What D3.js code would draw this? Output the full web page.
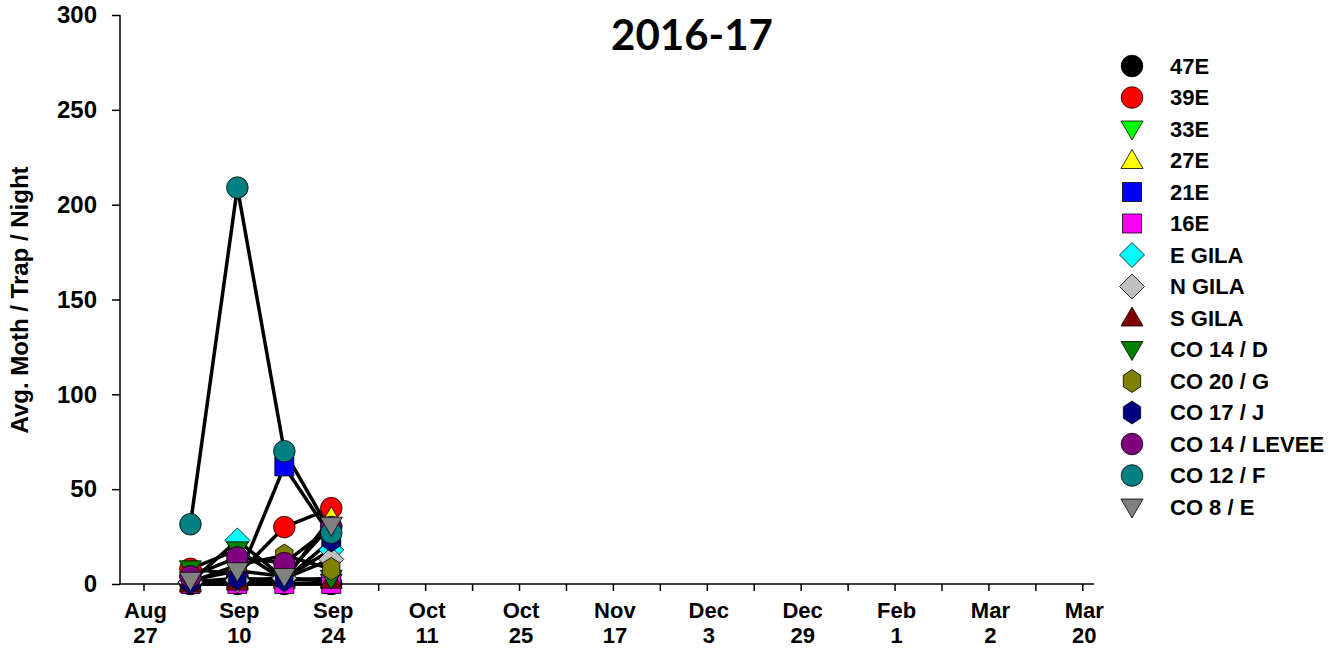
<!DOCTYPE html>
<html>
<head>
<meta charset="utf-8">
<script src="https://cdn.jsdelivr.net/npm/d3@7"></script>
<style>
  body { margin: 0; background: #fff; }
  text { font-family: "Liberation Sans", Arial, sans-serif; font-weight: bold; }
</style>
</head>
<body>
<div id="chart"></div>
<script>
// sample weeks (tick index on the x axis)
const weekIdx = [1, 2, 3, 4];

// labelled ticks (every other tick)
const tickLabels = [
  ["Aug", "27"], ["Sep", "10"], ["Sep", "24"], ["Oct", "11"], ["Oct", "25"],
  ["Nov", "17"], ["Dec", "3"], ["Dec", "29"], ["Feb", "1"], ["Mar", "2"], ["Mar", "20"]
];

const yTicks = [0, 50, 100, 150, 200, 250, 300];

const seriesNames = ["47E", "39E", "33E", "27E", "21E", "16E", "E GILA", "N GILA", "S GILA",
  "CO 14 / D", "CO 20 / G", "CO 17 / J", "CO 14 / LEVEE", "CO 12 / F", "CO 8 / E"];

const seriesColors = ["#000000", "#ff0000", "#00ff00", "#ffff00", "#0000ff", "#ff00ff", "#00ffff",
  "#c0c0c0", "#800000", "#008000", "#808000", "#000080", "#800080", "#008080", "#808080"];

const seriesShapes = ["circle", "circle", "tridown", "triup", "square", "square", "diamond", "diamond",
  "triup", "tridown", "hexagon", "hexagon", "circle", "circle", "tridown"];

const v47E    = [0, 0, 0, 0];
const v39E    = [8, 5, 30, 40];
const v33E    = [0, 0, 0, 1];
const v27E    = [1, 2, 2, 35];
const v21E    = [1, 2, 62, 25];
const v16E    = [0, 0, 0, 0];
const vEGila  = [1, 23, 3, 18];
const vNGila  = [1, 2, 3, 13];
const vSGila  = [0, 1, 3, 2];
const vCO14D  = [8, 18, 2, 3];
const vCO20G  = [1, 10, 15, 8];
const vCO17J  = [1, 3, 2, 23];
const vCO14L  = [4, 14, 11, 30];
const vCO12F  = [31.5, 209, 70, 27];
const vCO8E   = [2, 7, 4, 31];

const seriesValues = [v47E, v39E, v33E, v27E, v21E, v16E, vEGila, vNGila, vSGila,
  vCO14D, vCO20G, vCO17J, vCO14L, vCO12F, vCO8E];

const series = seriesNames.map((name, i) => ({
  name: name,
  color: seriesColors[i],
  shape: seriesShapes[i],
  points: weekIdx.map((w, j) => ({w: w, v: seriesValues[i][j]}))
}));

const width = 1343, height = 650;
const svg = d3.select("#chart").append("svg")
  .attr("width", width).attr("height", height);

const x = d3.scaleLinear().domain([0, 20]).range([143.5, 1082.3]);
const y = d3.scaleLinear().domain([0, 300]).range([584, 15]);

function shapePath(shape) {
  const p = d3.path();
  if (shape === "circle") {
    p.arc(0, 0, 10.8, 0, 2 * Math.PI);
  } else if (shape === "square") {
    p.rect(-9.5, -9.5, 19, 19);
  } else if (shape === "diamond") {
    p.moveTo(0, -12.5); p.lineTo(12.5, 0); p.lineTo(0, 12.5); p.lineTo(-12.5, 0); p.closePath();
  } else if (shape === "triup") {
    p.moveTo(0, -11); p.lineTo(11, 8); p.lineTo(-11, 8); p.closePath();
  } else if (shape === "tridown") {
    p.moveTo(0, 11); p.lineTo(11, -8); p.lineTo(-11, -8); p.closePath();
  } else if (shape === "hexagon") {
    for (let k = 0; k < 6; k++) {
      const a = Math.PI / 3 * k - Math.PI / 2;
      const px = 11.5 * Math.cos(a) * 0.87, py = 11.5 * Math.sin(a);
      if (k === 0) p.moveTo(px, py); else p.lineTo(px, py);
    }
    p.closePath();
  }
  return p.toString();
}

// axes
svg.append("line")
  .attr("x1", 120).attr("x2", 1094).attr("y1", y(0)).attr("y2", y(0))
  .attr("stroke", "#000").attr("stroke-width", 1.5);
svg.append("line")
  .attr("x1", 120).attr("x2", 120).attr("y1", y(0)).attr("y2", y(300))
  .attr("stroke", "#000").attr("stroke-width", 1.5);

const xAxis = svg.append("g")
  .attr("transform", `translate(0,${y(0)})`)
  .call(d3.axisBottom(x).tickValues(d3.range(0, 21)).tickSize(7).tickFormat(""));
xAxis.select(".domain").remove();
xAxis.selectAll(".tick line").attr("stroke-width", 1.5);

const yAxis = svg.append("g")
  .attr("transform", "translate(120,0)")
  .call(d3.axisLeft(y).tickValues(yTicks).tickSize(8).tickPadding(15));
yAxis.select(".domain").remove();
yAxis.selectAll(".tick line").attr("stroke-width", 1.5);
yAxis.selectAll(".tick text")
  .attr("font-size", 24).attr("fill", "#000")
  .attr("font-family", "Liberation Sans, Arial, sans-serif").attr("font-weight", "bold");

const xl = svg.append("g").selectAll("text")
  .data(tickLabels).join("text")
  .attr("text-anchor", "middle")
  .attr("font-size", 22);
xl.append("tspan").attr("x", (d, i) => x(i * 2) + 2).attr("y", 618).text(d => d[0]);
xl.append("tspan").attr("x", (d, i) => x(i * 2) + 2).attr("y", 643).text(d => d[1]);

svg.append("text")
  .attr("transform", "translate(28,300) rotate(-90)")
  .attr("text-anchor", "middle")
  .attr("font-size", 24)
  .text("Avg. Moth / Trap / Night");

svg.append("text")
  .attr("x", 692).attr("y", 50)
  .attr("text-anchor", "middle")
  .attr("font-size", 42)
  .style("font-family", "Lato, 'Open Sans', sans-serif")
  .text("2016-17");

// lines
const line = d3.line().x(d => x(d.w)).y(d => y(d.v));
svg.append("g").selectAll("path")
  .data(series).join("path")
  .attr("d", d => line(d.points))
  .attr("fill", "none")
  .attr("stroke", "#000")
  .attr("stroke-width", 3.5)
  .attr("stroke-linejoin", "round");

// markers
const mk = svg.append("g").selectAll("g")
  .data(series).join("g");
mk.selectAll("path")
  .data(d => d.points.map(p => ({p: p, s: d})))
  .join("path")
  .attr("transform", d => `translate(${x(d.p.w)},${y(d.p.v)})`)
  .attr("d", d => shapePath(d.s.shape))
  .attr("fill", d => d.s.color)
  .attr("stroke", "#000")
  .attr("stroke-width", 0.8);

// legend
const lg = svg.append("g").selectAll("g")
  .data(series).join("g")
  .attr("transform", (d, i) => `translate(1132,${66 + i * 31.5})`);
lg.append("path")
  .attr("d", d => shapePath(d.shape))
  .attr("fill", d => d.color)
  .attr("stroke", "#000")
  .attr("stroke-width", 0.8);
lg.append("text")
  .attr("x", 38).attr("y", 7.5)
  .attr("font-size", 22)
  .text(d => d.name);
</script>
</body>
</html>
